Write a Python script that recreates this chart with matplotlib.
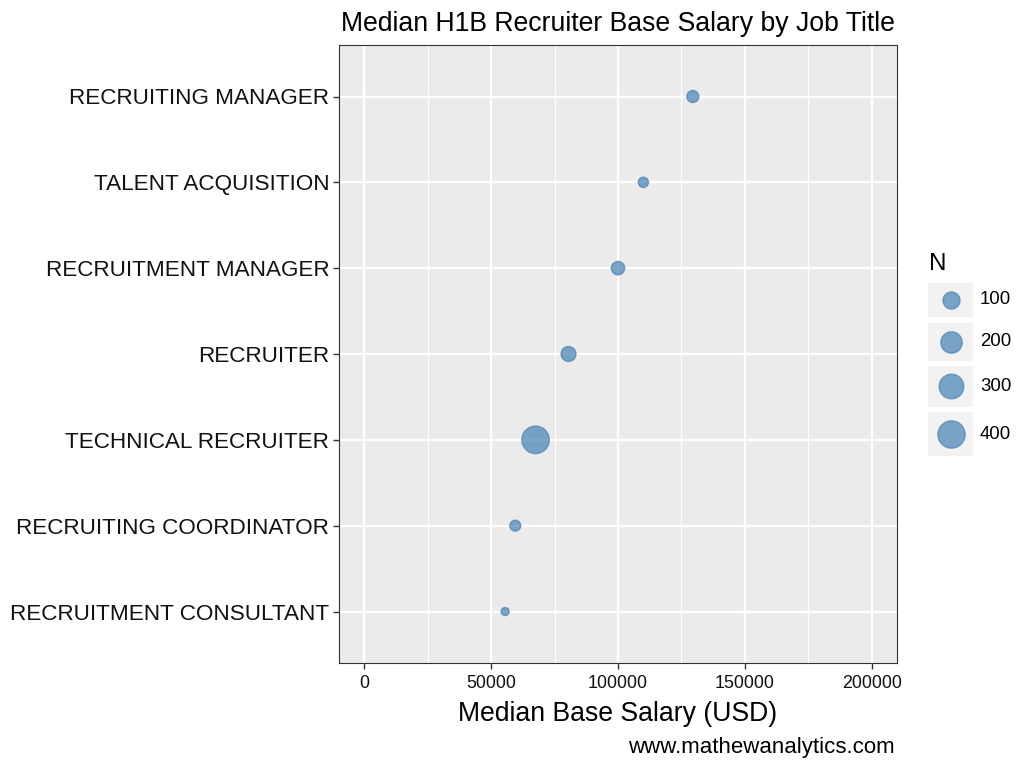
import numpy as np
import matplotlib
matplotlib.use("Agg")
import matplotlib.pyplot as plt
from matplotlib.patches import Rectangle

plt.rcParams['font.family'] = ['Liberation Sans', 'DejaVu Sans']

# ---- data (bottom to top) ----
job_titles = ["RECRUITMENT CONSULTANT", "RECRUITING COORDINATOR", "TECHNICAL RECRUITER",
              "RECRUITER", "RECRUITMENT MANAGER", "TALENT ACQUISITION", "RECRUITING MANAGER"]
median_salary = [55500, 59500, 67500, 80500, 100000, 110000, 129500]
counts = [15, 24, 410, 65, 45, 20, 32]
legend_breaks = [100, 200, 300, 400]
x_ticks = [0, 50000, 100000, 150000, 200000]

N_MIN, N_MAX = min(counts), max(counts)
D_MIN, D_MAX = 8.0, 27.5  # diameters in px


def size_for(n):
    frac = np.clip((np.asarray(n, float) - N_MIN) / (N_MAX - N_MIN), 0, 1)
    d_px = D_MIN + (D_MAX - D_MIN) * np.sqrt(frac)
    return (d_px * 72 / 100.0) ** 2


point_color = (70/255, 130/255, 180/255, 0.7)

fig = plt.figure(figsize=(10.24, 7.68), dpi=100)
L, R, T, B = 339, 897, 45, 663
ax = fig.add_axes([L/1024, 1 - B/768, (R - L)/1024, (B - T)/768])
ax.set_facecolor('#EBEBEB')

ypos = np.arange(len(job_titles))
ax.set_xlim(-10000, 210000)
ax.set_ylim(-0.6, len(job_titles) - 1 + 0.6)

# grid
for xv in np.arange(25000, 200001, 50000):
    ax.axvline(xv, color='white', lw=0.8, zorder=1)
for xv in x_ticks:
    ax.axvline(xv, color='white', lw=1.6, zorder=1)
for yv in ypos:
    ax.axhline(yv, color='white', lw=1.6, zorder=1)

ax.scatter(median_salary, ypos, s=size_for(counts), facecolor=point_color,
           edgecolor=point_color, linewidths=1.0, zorder=3)

ax.set_xticks(x_ticks)
ax.set_xticklabels([str(v) for v in x_ticks], fontsize=12.9, color='#111111')
ax.set_yticks(ypos)
ax.set_yticklabels(job_titles, fontsize=16.2, color='#111111')
ax.tick_params(axis='x', length=4, width=1, color='#333333', pad=5)
ax.tick_params(axis='y', length=4, width=1, color='#333333', pad=3)
for sp in ax.spines.values():
    sp.set_color('#333333')
    sp.set_linewidth(0.8)

ax.set_xlabel("Median Base Salary (USD)", fontsize=19.2, labelpad=6, color='black')
ax.set_title("Median H1B Recruiter Base Salary by Job Title", fontsize=19.2, pad=10)

fig.text(895/1024, 1 - 747/768, "www.mathewanalytics.com", fontsize=16,
         ha='right', va='center', color='black')

# ---- legend (manual, pixel coords) ----
lax = fig.add_axes([0, 0, 1, 1], facecolor='none')
lax.set_xlim(0, 1024)
lax.set_ylim(768, 0)
lax.axis('off')
lax.text(929, 264, "N", fontsize=17.5, ha='left', va='center')
boxes = [(282.7, 317.3), (322.7, 360.7), (365.7, 406.7), (412.3, 456.0)]
for (y0, y1), brk in zip(boxes, legend_breaks):
    lax.add_patch(Rectangle((928, y0), 45, y1 - y0, facecolor='#F2F2F2',
                            edgecolor='none', zorder=1))
    yc = (y0 + y1) / 2
    lax.scatter([951], [yc], s=size_for(brk), facecolor=point_color,
                edgecolor=point_color, linewidths=1.0, zorder=3)
    lax.text(980, yc, str(brk), fontsize=13.4, ha='left', va='center')

fig.savefig("out.png", dpi=100)
